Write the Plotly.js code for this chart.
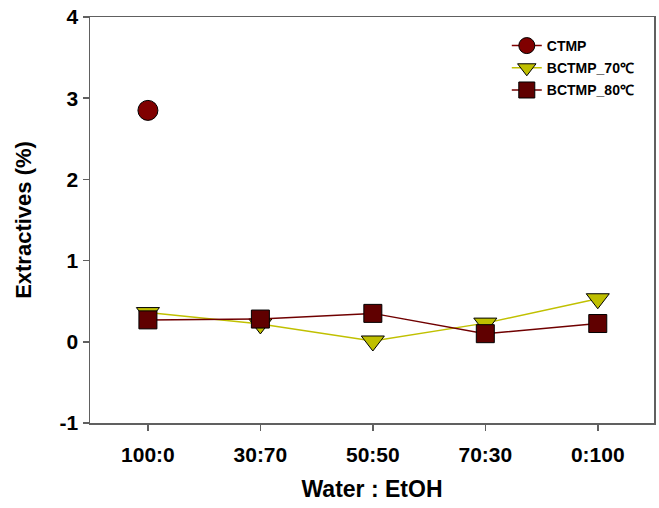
<!DOCTYPE html>
<html><head><meta charset="utf-8">
<script src="https://cdn.plot.ly/plotly-3.0.1.min.js"></script>
<style>body{margin:0;padding:0;background:#fff}#chart{width:659px;height:508px}</style>
</head><body><div id="chart"></div>
<script>
const categories = ["100:0", "30:70", "50:50", "70:30", "0:100"];
const ctmp = [2.85, null, null, null, null];
const bctmp70 = [0.36, 0.22, 0.01, 0.23, 0.53];
const bctmp80 = [0.27, 0.28, 0.35, 0.10, 0.225];
const yTicks = [-1, 0, 1, 2, 3, 4];

const xIdx = categories.map((c, i) => i);
const fam = "Liberation Sans, Arial, sans-serif";

const traces = [
  {x: xIdx, y: ctmp, name: "CTMP", mode: "lines+markers", legendgroup: "a",
   line: {color: "#800000", width: 1.5},
   marker: {symbol: "circle", size: 20, color: "#800000", line: {color: "#000", width: 1}}},
  {x: xIdx, y: bctmp70, name: "BCTMP_70\u2103", mode: "lines+markers", legendgroup: "b",
   line: {color: "#C0C000", width: 1.5},
   marker: {symbol: "triangle-down", size: 20, color: "#BFBF00", line: {color: "#000", width: 1}}},
  {x: xIdx, y: bctmp80, name: "BCTMP_80\u2103", mode: "lines+markers", legendgroup: "c",
   line: {color: "#700000", width: 1.5},
   marker: {symbol: "square", size: 18, color: "#600000", line: {color: "#000", width: 1}}}
];

const layout = {
  width: 659, height: 508,
  margin: {l: 90, r: 5, t: 17, b: 85},
  paper_bgcolor: "#fff", plot_bgcolor: "#fff",
  showlegend: true,
  legend: {x: 0.739, y: 0.968, xanchor: "left", yanchor: "top", bgcolor: "rgba(0,0,0,0)",
           font: {family: fam, size: 14, color: "#000", weight: "bold"},
           traceorder: "grouped", tracegroupgap: 1, itemwidth: 30},
  shapes: [{type: "line", xref: "paper", yref: "paper", x0: -0.009, x1: 0, y0: 0, y1: 0,
            line: {color: "#606060", width: 1.5}}],
  xaxis: {
    range: [-0.515, 4.5], tickmode: "array", tickvals: xIdx, ticktext: categories,
    showline: true, linecolor: "#606060", linewidth: 1.5, mirror: true,
    ticks: "outside", ticklen: 6, tickcolor: "#606060", tickwidth: 1.5,
    ticklabelstandoff: 6,
    showgrid: false, zeroline: false,
    tickfont: {family: fam, size: 21, color: "#000", weight: "bold"},
    title: {text: "Water : EtOH", font: {family: fam, size: 23, color: "#000", weight: "bold"}, standoff: 16}
  },
  yaxis: {
    range: [-1, 4], tickmode: "array", tickvals: yTicks, ticktext: yTicks.map(String),
    showline: true, linecolor: "#606060", linewidth: 1.5, mirror: true,
    ticks: "outside", ticklen: 6, tickcolor: "#606060", tickwidth: 1.5,
    showgrid: false, zeroline: false,
    tickfont: {family: fam, size: 21, color: "#000", weight: "bold"},
    title: {text: "Extractives (%)", font: {family: fam, size: 22, color: "#000", weight: "bold"}, standoff: 22}
  }
};

Plotly.newPlot("chart", traces, layout, {displayModeBar: false, staticPlot: true});
</script></body></html>
